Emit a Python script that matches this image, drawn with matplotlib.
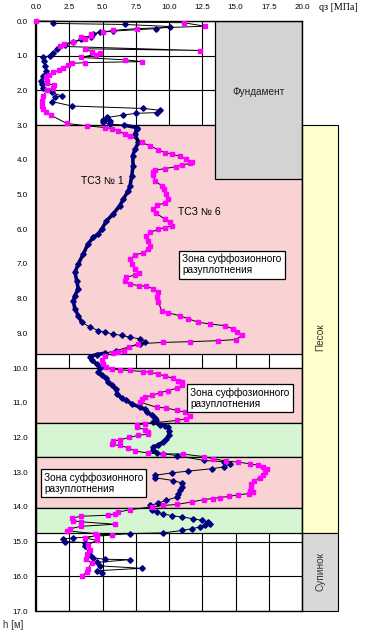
import matplotlib
matplotlib.use("Agg")
import matplotlib.pyplot as plt
from matplotlib.patches import Rectangle

# ---------------- data ----------------
# TSZ No1 (navy)
q1 = [1.3, 6.7, 10.1, 9.0, 5.8, 4.8, 4.3, 4.1, 3.4, 2.8, 2.2, 1.6, 1.3, 1.05, 0.55, 0.6, 0.68, 0.75,
      0.55, 0.35, 0.42, 0.55, 1.18, 1.93, 1.43, 1.18, 2.7, 8.07, 9.3, 9.07, 7.5, 6.57, 5.36, 5.06,
      5.56, 5.06, 5.6, 6.6, 7.57, 7.57, 7.45, 7.7, 7.45, 7.27, 7.3, 7.2, 7.07, 6.94, 6.57, 6.3, 5.8,
      5.3, 4.94, 4.68, 4.31, 3.9, 3.56, 3.18, 2.93, 3.06, 3.18, 2.93, 2.8, 2.93, 3.18, 3.43, 4.06,
      4.68, 5.19, 5.8, 6.44, 7.07, 7.82, 8.2, 7.82, 6.0, 5.19, 4.56, 4.06, 4.18, 4.56, 4.81, 4.68,
      4.93, 5.3, 5.44, 5.69, 6.0, 6.12, 6.44, 6.8, 7.2, 7.82, 8.2, 8.32, 8.7, 8.95, 9.02, 8.8, 9.32,
      9.7, 9.95, 10.0, 10.0, 9.8, 9.57, 9.2, 8.8, 8.8, 9.07, 9.57, 10.57, 12.6, 14.1, 14.6, 14.1,
      13.2, 11.45, 10.2, 8.95, 8.95, 10.3, 10.95, 10.95, 10.8, 10.7, 10.57, 9.8, 9.2, 8.57, 8.7,
      9.07, 9.57, 10.2, 10.95, 11.83, 12.46, 12.96, 13.08, 12.7, 12.3, 11.7, 10.95, 9.57, 7.07,
      2.8, 2.05, 2.18, 3.68, 3.68, 4.06, 4.31, 5.19, 7.07, 4.56, 4.81, 7.95, 4.56, 4.93]
h1 = [0.07, 0.10, 0.16, 0.22, 0.29, 0.33, 0.38, 0.45, 0.53, 0.60, 0.70, 0.81, 0.91, 1.00, 1.05,
      1.15, 1.30, 1.44, 1.58, 1.73, 1.82, 1.92, 2.06, 2.16, 2.20, 2.32, 2.45, 2.52, 2.57, 2.64,
      2.66, 2.71, 2.78, 2.86, 2.88, 2.92, 2.97, 3.00, 3.07, 3.10, 3.26, 3.50, 3.69, 3.88, 4.17,
      4.46, 4.75, 4.89, 5.13, 5.32, 5.56, 5.76, 6.00, 6.14, 6.23, 6.43, 6.71, 7.00, 7.24, 7.48,
      7.72, 7.91, 8.06, 8.30, 8.49, 8.68, 8.82, 8.92, 8.97, 9.02, 9.06, 9.11, 9.16, 9.25, 9.30,
      9.50, 9.57, 9.61, 9.67, 9.78, 9.88, 10.00, 10.12, 10.21, 10.29, 10.41, 10.50, 10.60, 10.74,
      10.87, 10.93, 11.03, 11.13, 11.19, 11.27, 11.35, 11.44, 11.51, 11.56, 11.63, 11.67, 11.70,
      11.80, 11.94, 12.04, 12.13, 12.21, 12.28, 12.37, 12.44, 12.47, 12.52, 12.66, 12.70, 12.76,
      12.85, 12.90, 12.97, 13.02, 13.09, 13.16, 13.24, 13.31, 13.42, 13.52, 13.62, 13.72, 13.81,
      13.89, 13.96, 14.08, 14.15, 14.20, 14.25, 14.29, 14.34, 14.39, 14.43, 14.48, 14.53, 14.58,
      14.63, 14.68, 14.75, 14.77, 14.90, 14.92, 15.00, 15.03, 15.13, 15.39, 15.47, 15.51, 15.52,
      15.60, 15.70, 15.77, 15.84, 15.91]

# TSZ No6 (magenta)
q6 = [0.0, 11.1, 12.7, 7.6, 5.8, 5.0, 4.1, 4.1, 3.4, 3.7, 2.8, 2.1, 1.8, 12.3, 3.7, 4.2, 4.5, 4.8,
      3.4, 6.7, 8.0, 3.7, 2.7, 2.4, 2.0, 1.7, 1.3, 0.95, 0.75, 0.8, 0.85, 1.35, 1.3, 0.8, 0.55, 0.45,
      0.45, 0.5, 0.75, 1.15, 2.3, 3.8, 5.2, 5.7, 6.2, 6.7, 7.1, 7.95, 8.6, 9.2, 9.7, 10.2, 10.8,
      11.3, 11.7, 11.6, 11.0, 10.5, 9.7, 8.95, 8.8, 8.8, 8.95, 9.45, 9.6, 9.8, 9.95, 9.7, 9.1, 8.8,
      9.0, 9.7, 10.1, 10.2, 9.7, 9.2, 8.6, 8.3, 8.4, 8.6, 8.4, 8.07, 7.45, 7.1, 7.2, 7.45, 7.78,
      7.45, 6.8, 6.7, 7.07, 7.78, 8.3, 8.8, 9.2, 9.1, 9.2, 9.45, 9.95, 10.8, 11.45, 12.2, 13.1,
      14.2, 14.8, 15.1, 15.5, 15.0, 13.7, 11.6, 9.57, 7.7, 7.0, 6.6, 6.2, 5.8, 5.2, 4.94, 5.0,
      5.26, 5.7, 6.3, 7.07, 8.07, 8.57, 9.2, 9.7, 10.27, 10.7, 11.0, 10.95, 10.57, 9.95, 9.32, 8.7,
      8.2, 7.95, 7.82, 9.07, 9.8, 10.57, 11.2, 11.6, 11.3, 10.57, 8.2, 7.57, 7.6, 8.2, 8.45, 8.45,
      7.7, 7.0, 6.3, 5.77, 5.7, 6.3, 6.94, 7.45, 8.45, 9.57, 11.08, 12.6, 13.3, 14.3, 15.2, 16.1,
      16.7, 17.1, 17.35, 17.2, 17.05, 16.85, 16.4, 16.2, 16.2, 16.1, 16.3, 16.0, 15.2, 14.5, 13.8,
      13.3, 12.6, 11.7, 10.57, 9.57, 8.7, 7.07, 6.2, 5.94, 5.44, 3.4, 2.7, 2.8, 3.4, 5.94, 3.4,
      2.55, 2.3, 4.44, 5.7, 4.56, 3.68, 4.56, 3.9, 4.06, 3.8, 3.76, 4.18, 3.9, 3.8, 3.43]
h6 = [0.00, 0.05, 0.15, 0.22, 0.27, 0.32, 0.37, 0.44, 0.46, 0.53, 0.60, 0.66, 0.73, 0.85, 0.80,
      0.90, 0.97, 0.93, 1.05, 1.12, 1.17, 1.20, 1.22, 1.28, 1.35, 1.42, 1.48, 1.55, 1.62, 1.72,
      1.80, 1.85, 1.93, 2.00, 2.15, 2.30, 2.45, 2.55, 2.62, 2.72, 2.95, 3.02, 3.07, 3.10, 3.17,
      3.26, 3.31, 3.50, 3.60, 3.71, 3.79, 3.83, 3.90, 3.98, 4.05, 4.10, 4.15, 4.20, 4.25, 4.30,
      4.36, 4.45, 4.60, 4.75, 4.84, 4.99, 5.13, 5.25, 5.30, 5.42, 5.53, 5.71, 5.80, 5.90, 5.95,
      6.00, 6.09, 6.19, 6.33, 6.47, 6.57, 6.68, 6.74, 6.86, 7.00, 7.15, 7.26, 7.32, 7.38, 7.48,
      7.58, 7.63, 7.64, 7.72, 7.82, 7.96, 8.10, 8.35, 8.41, 8.49, 8.58, 8.68, 8.73, 8.78, 8.87,
      8.97, 9.06, 9.18, 9.21, 9.24, 9.26, 9.30, 9.40, 9.50, 9.53, 9.58, 9.65, 9.76, 9.88, 9.97,
      10.02, 10.05, 10.07, 10.10, 10.12, 10.17, 10.23, 10.29, 10.36, 10.41, 10.50, 10.58, 10.65,
      10.71, 10.79, 10.84, 10.88, 10.98, 11.13, 11.15, 11.22, 11.27, 11.37, 11.46, 11.51, 11.60,
      11.65, 11.70, 11.78, 11.84, 11.90, 11.94, 12.00, 12.07, 12.10, 12.20, 12.23, 12.30, 12.39,
      12.45, 12.47, 12.48, 12.55, 12.61, 12.68, 12.71, 12.76, 12.80, 12.85, 12.90, 13.00, 13.09,
      13.16, 13.24, 13.33, 13.46, 13.53, 13.57, 13.62, 13.65, 13.70, 13.73, 13.76, 13.79, 13.86,
      13.93, 13.96, 14.00, 14.08, 14.15, 14.20, 14.24, 14.27, 14.32, 14.40, 14.43, 14.50, 14.56,
      14.63, 14.69, 14.77, 14.80, 14.82, 14.90, 14.96, 15.10, 15.25, 15.35, 15.49, 15.63, 15.78,
      15.87, 16.00]

# zones (top depth, bottom depth, kind)
zone_top = [3.0, 10.0, 11.58, 12.56, 14.02]
zone_bot = [9.6, 11.58, 12.56, 14.02, 14.75]
zone_kind = ["pink", "pink", "green", "pink", "green"]

x_ticks = [0.0, 2.5, 5.0, 7.5, 10.0, 12.5, 15.0, 17.5, 20.0]
y_ticks = list(range(0, 18))

# ---------------- figure ----------------
W, H = 372, 640
fig = plt.figure(figsize=(W / 100, H / 100), dpi=100)
ax = fig.add_axes([36 / W, 1 - 611 / H, 266 / W, 590 / H])
ax.set_xlim(0, 20)
ax.set_ylim(17, 0)

ax.set_xticks(x_ticks)
ax.set_yticks(y_ticks)
ax.set_xticklabels([f"{v:.1f}" for v in x_ticks], family="Liberation Sans", fontsize=5.8)
ax.set_yticklabels([f"{v:.1f}" for v in y_ticks], family="Liberation Sans", fontsize=5.8)
ax.xaxis.tick_top()
ax.tick_params(axis="both", length=0)
ax.tick_params(axis="x", pad=7)
ax.tick_params(axis="y", pad=6)
ax.grid(True, color="black", lw=0.8, zorder=0)
ax.set_axisbelow(True)
for s in ax.spines.values():
    s.set_linewidth(1.0)
ax.spines["left"].set_linewidth(1.6)

colors = {"pink": "#F9D3D3", "green": "#D6F5D3"}
for t, b, k in zip(zone_top, zone_bot, zone_kind):
    ax.add_patch(Rectangle((0, t), 20, b - t, fc=colors[k], ec="black", lw=0.9, zorder=1))

# foundation
ax.add_patch(Rectangle((13.45, 0), 20 - 13.45, 4.55, fc="#D3D3D3", ec="black", lw=0.9, zorder=2))
ax.text(16.72, 2.05, "Фундамент", ha="center", va="center", fontsize=7.2,
        family="Liberation Sans", color="#222222", zorder=4)

# soil column on the right
ax.add_patch(Rectangle((20, 3.0), 2.72, 14.75 - 3.0, fc="#FFFFCC", ec="black", lw=0.8,
                       clip_on=False, zorder=2))
ax.add_patch(Rectangle((20, 14.75), 2.72, 17 - 14.75, fc="#D8D8D8", ec="black", lw=0.8,
                       clip_on=False, zorder=2))
ax.text(21.36, 9.1, "Песок", rotation=90, ha="center", va="center", fontsize=7.2,
        family="Liberation Sans", color="#333333", clip_on=False, zorder=4)
ax.text(21.36, 15.85, "Супинок", rotation=90, ha="center", va="center", fontsize=7.2,
        family="Liberation Sans", color="#333333", clip_on=False, zorder=4)

# data
# dense parts of TSZ No1 look like a thick navy band
dense = [i for i, h in enumerate(h1) if 3.0 <= h <= 8.7 or 9.55 <= h <= 12.45]
segs = []
cur = []
for i in dense:
    if cur and i != cur[-1] + 1:
        segs.append(cur)
        cur = []
    cur.append(i)
if cur:
    segs.append(cur)
for sg in segs:
    ax.plot([q1[i] for i in sg], [h1[i] for i in sg], color="#000080", lw=2.6,
            solid_capstyle="round", zorder=5)
ax.plot(q1, h1, color="black", lw=0.7, marker="D", ms=2.8, mfc="#000080", mec="#000080",
        zorder=5, clip_on=False)
ax.plot(q6, h6, color="black", lw=0.7, marker="s", ms=3.5, mfc="#FF00FF", mec="#FF00FF",
        zorder=6, clip_on=False)

# labels
ax.text(4.96, 4.62, "ТСЗ № 1", ha="center", va="center", fontsize=7.5,
        family="Liberation Sans", zorder=7)
ax.text(12.25, 5.5, "ТСЗ № 6", ha="center", va="center", fontsize=7.5,
        family="Liberation Sans", zorder=7)
box = dict(boxstyle="square,pad=0.3", fc="white", ec="black", lw=0.9)
zone_txt = "Зона суффозионного\nразуплотнения"
ax.text(11.0, 7.02, zone_txt, ha="left", va="center", fontsize=7.3, family="Liberation Sans",
        bbox=box, zorder=8, linespacing=1.15)
ax.text(11.6, 10.86, zone_txt, ha="left", va="center", fontsize=7.3, family="Liberation Sans",
        bbox=box, zorder=8, linespacing=1.15)
ax.text(0.6, 13.31, zone_txt, ha="left", va="center", fontsize=7.3, family="Liberation Sans",
        bbox=box, zorder=8, linespacing=1.15)

fig.text(319 / W, 1 - 7 / H, "qз [МПа]", ha="left", va="center", fontsize=7.2,
         family="Liberation Serif")
fig.text(3 / W, 1 - 625 / H, "h [м]", ha="left", va="center", fontsize=7,
         family="Liberation Sans", color="#333333")

fig.savefig("out.png", dpi=100)
